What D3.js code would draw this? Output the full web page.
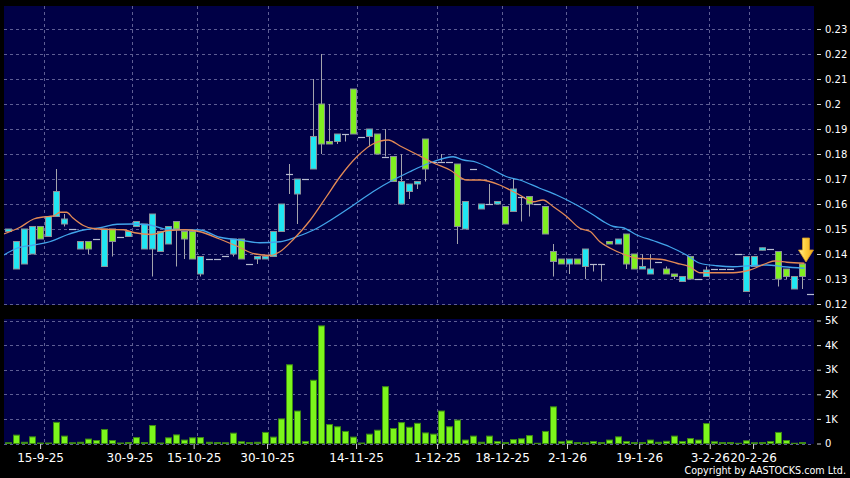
<!DOCTYPE html>
<html>
<head>
<meta charset="utf-8">
<script src="https://cdn.jsdelivr.net/npm/d3@7"></script>
<style>
  body { margin: 0; background: #000; }
  svg { display: block; }
</style>
</head>
<body>
<script>
// one candle per trading day, index 0..100 (left to right)
const opens = [0.149,0.134,0.136,0.140,0.151,0.147,0.155,0.152,0.150,0.142,
  0.145,0.146,0.135,0.150,0.147,0.147,0.151,0.142,0.142,0.141,
  0.144,0.153,0.149,0.149,0.132,0.138,0.138,0.139,0.140,0.146,
  0.136,0.138,0.138,0.139,0.149,0.172,0.164,0.170,0.174,0.200,
  0.185,0.185,0.188,0.206,0.187,0.187,0.188,0.179,0.179,0.160,
  0.165,0.168,0.186,0.177,0.177,0.177,0.176,0.150,0.174,0.158,
  0.160,0.160,0.159,0.157,0.163,0.163,0.160,0.159,0.141,0.138,
  0.136,0.138,0.135,0.136,0.136,0.145,0.144,0.148,0.140,0.134,
  0.132,0.137,0.134,0.132,0.129,0.139,0.130,0.131,0.134,0.134,
  0.134,0.140,0.125,0.135,0.1415,0.142,0.141,0.134,0.126,0.136,
  0.124];
const highs = [0.150,0.145,0.150,0.151,0.151,0.155,0.174,0.156,0.150,0.145,
  0.145,0.146,0.150,0.150,0.147,0.149,0.153,0.152,0.156,0.149,
  0.151,0.153,0.149,0.149,0.139,0.138,0.138,0.139,0.146,0.146,
  0.136,0.139,0.139,0.149,0.160,0.176,0.170,0.170,0.210,0.220,
  0.200,0.188,0.188,0.206,0.187,0.190,0.188,0.190,0.179,0.180,
  0.168,0.169,0.186,0.177,0.180,0.177,0.176,0.161,0.174,0.160,
  0.168,0.161,0.159,0.170,0.163,0.163,0.160,0.159,0.144,0.138,
  0.138,0.138,0.142,0.136,0.136,0.145,0.146,0.148,0.140,0.140,
  0.140,0.137,0.135,0.132,0.131,0.139,0.130,0.135,0.134,0.134,
  0.134,0.140,0.139,0.139,0.1425,0.142,0.141,0.134,0.131,0.136,
  0.124];
const lows = [0.149,0.134,0.136,0.140,0.146,0.147,0.155,0.151,0.150,0.142,
  0.140,0.146,0.135,0.139,0.147,0.147,0.151,0.142,0.131,0.141,
  0.144,0.135,0.138,0.138,0.131,0.138,0.138,0.139,0.139,0.138,
  0.136,0.136,0.138,0.139,0.149,0.164,0.152,0.170,0.174,0.180,
  0.184,0.184,0.185,0.188,0.187,0.183,0.180,0.179,0.169,0.160,
  0.162,0.166,0.169,0.177,0.177,0.177,0.144,0.150,0.174,0.158,
  0.160,0.160,0.152,0.157,0.153,0.155,0.160,0.148,0.131,0.136,
  0.132,0.136,0.130,0.133,0.129,0.144,0.144,0.134,0.134,0.134,
  0.132,0.137,0.132,0.130,0.129,0.130,0.130,0.131,0.134,0.134,
  0.134,0.140,0.125,0.135,0.1415,0.142,0.127,0.130,0.126,0.126,
  0.124];
const closes = [0.150,0.145,0.150,0.151,0.146,0.155,0.165,0.154,0.150,0.145,
  0.142,0.146,0.150,0.145,0.147,0.149,0.153,0.152,0.156,0.149,
  0.151,0.150,0.146,0.138,0.139,0.138,0.138,0.139,0.146,0.138,
  0.136,0.139,0.139,0.149,0.160,0.172,0.170,0.170,0.187,0.184,
  0.184,0.188,0.188,0.188,0.187,0.190,0.180,0.179,0.169,0.169,
  0.168,0.169,0.174,0.177,0.177,0.177,0.151,0.161,0.174,0.160,
  0.160,0.161,0.152,0.166,0.163,0.160,0.160,0.148,0.137,0.136,
  0.138,0.136,0.142,0.136,0.136,0.144,0.146,0.136,0.134,0.135,
  0.134,0.137,0.132,0.131,0.131,0.130,0.130,0.1336,0.134,0.134,
  0.134,0.140,0.139,0.139,0.1425,0.142,0.130,0.131,0.131,0.131,
  0.124];
// volume in thousands
const volumes = [0.03,0.34,0.05,0.27,0.02,0.02,0.86,0.30,0.03,0.05,
  0.18,0.12,0.57,0.12,0.02,0.04,0.24,0.04,0.73,0.02,
  0.23,0.35,0.14,0.23,0.24,0.05,0.04,0.03,0.42,0.07,
  0.04,0.05,0.45,0.26,1.00,3.20,1.32,0.08,2.57,4.78,
  0.77,0.68,0.49,0.26,0.02,0.38,0.54,2.31,0.61,0.85,
  0.66,0.82,0.43,0.38,1.32,0.68,0.95,0.14,0.30,0.05,
  0.30,0.08,0.04,0.16,0.19,0.32,0.01,0.49,1.49,0.07,
  0.11,0.04,0.03,0.08,0.04,0.14,0.27,0.08,0.04,0.04,
  0.14,0.05,0.09,0.30,0.08,0.20,0.14,0.81,0.07,0.04,
  0.04,0.01,0.11,0.03,0.04,0.08,0.45,0.12,0.01,0.04,
  0.00];

// moving averages: [candle index, price]
const maShort = [[-0.5,0.148],[1.5,0.1507],[3.2,0.154],[4.4,0.1548],[5.65,0.1552],[6.5,0.1567],
  [7.3,0.1567],[8.1,0.1544],[9.4,0.1514],[10.6,0.1502],[12.7,0.1498],[14.4,0.1497],[15.8,0.1485],
  [17.9,0.1478],[20,0.1494],[22.1,0.1497],[24.1,0.1488],[26.3,0.1461],[28.6,0.1431],[30.7,0.1401],
  [32.7,0.1394],[33.9,0.1409],[35.6,0.1459],[37.7,0.1536],[39.7,0.1629],[41.4,0.1709],[43.5,0.1789],
  [45.5,0.184],[47.4,0.1856],[48.9,0.1832],[51,0.1798],[53,0.1765],[55.1,0.1736],[57.2,0.1696],
  [58.9,0.1696],[61.3,0.1676],[62.6,0.1656],[63.8,0.1636],[65.5,0.1609],[66.7,0.1616],[68,0.1589],
  [69.7,0.1549],[71.3,0.1503],[72.6,0.149],[73.8,0.1449],[75.1,0.1423],[76.7,0.140],[78.4,0.1383],
  [81.3,0.1379],[83.4,0.1363],[85,0.1349],[86.3,0.1325],[90.4,0.1325],[92.5,0.1336],[94.6,0.1363],
  [95.6,0.1372],[97.1,0.1367],[99.3,0.1363]];
const maLong = [[-0.5,0.1396],[1.1,0.1423],[3.2,0.1436],[5.2,0.1449],[7.3,0.1476],[9.4,0.1496],
  [11.5,0.1505],[13.6,0.1519],[15.6,0.152],[17.7,0.1516],[19.8,0.1499],[21.8,0.1497],[23.9,0.1496],
  [26.4,0.1467],[28.9,0.1456],[31.4,0.1445],[33.9,0.1449],[36,0.1469],[38.1,0.1496],[40.6,0.1543],
  [43.1,0.1596],[45.5,0.1649],[48,0.1696],[50.1,0.1729],[51,0.1743],[53,0.1769],[55.5,0.1789],
  [56.8,0.1776],[58.4,0.1767],[60.1,0.1743],[62.2,0.1709],[63.8,0.1696],[66.3,0.1663],[68.4,0.1636],
  [70.9,0.1596],[73,0.1556],[74.5,0.1525],[75.5,0.151],[76.7,0.1505],[78.4,0.1476],[80.5,0.1453],
  [82.5,0.1429],[84.6,0.1396],[86.3,0.1363],[88.4,0.1353],[90.4,0.1349],[92.5,0.1353],[94.6,0.1356],
  [96.7,0.1349],[99.3,0.1343]];

const dateLabels = ["15-9-25","30-9-25","15-10-25","30-10-25","14-11-25","1-12-25",
  "18-12-25","2-1-26","19-1-26","3-2-26","20-2-26"];
const dateIdx = [4, 15.15, 23.15, 32.3, 43.4, 53.5, 61.6, 69.7, 78.7, 87.5, 92.9];
const gridIdx = [4.5, 15.5, 23.55, 32.45, 43.5, 53.5, 61.6, 69.6, 78.45, 87.4, 92.45];
const priceTicks = [0.12,0.13,0.14,0.15,0.16,0.17,0.18,0.19,0.2,0.21,0.22,0.23];
const priceLabels = ["0.12","0.13","0.14","0.15","0.16","0.17","0.18","0.19","0.2","0.21","0.22","0.23"];
const volTicks = [0,1,2,3,4,5];
const volLabels = ["0","1K","2K","3K","4K","5K"];

const font = "'DejaVu Sans', Verdana, sans-serif";
const bg = "#000046";
const gridColor = "#5e5e94";
const upColor = "#20e6f2";
const downColor = "#80f020";

const svg = d3.select("body").append("svg")
    .attr("width", 850)
    .attr("height", 478)
    .style("font-family", font);

svg.append("rect").attr("width", 850).attr("height", 478).attr("fill", "#000");

const x = d3.scaleLinear().domain([-0.5, closes.length - 0.5]).range([4, 814]);
const y = d3.scaleLinear().domain([0.12, 0.23]).range([304, 29]);
const yv = d3.scaleLinear().domain([0, 5]).range([443.5, 320.5]);

const mainBox = { top: 6, bottom: 305 };
const volBox = { top: 319, bottom: 444 };

// panel backgrounds
svg.append("rect").attr("x", 4).attr("y", mainBox.top).attr("width", 810)
    .attr("height", mainBox.bottom - mainBox.top).attr("fill", bg);
svg.append("rect").attr("x", 4).attr("y", volBox.top).attr("width", 810)
    .attr("height", volBox.bottom - volBox.top).attr("fill", bg);

const defs = svg.append("defs");
defs.append("clipPath").attr("id", "clipMain").append("rect")
    .attr("x", 4).attr("y", mainBox.top).attr("width", 810).attr("height", mainBox.bottom - mainBox.top);

// grid lines
function drawGrid(ticks, scale, box) {
    const g = svg.append("g")
        .attr("stroke", gridColor)
        .attr("stroke-dasharray", "3,3")
        .attr("shape-rendering", "crispEdges");
    g.selectAll(".h").data(ticks).join("line")
        .attr("x1", 4).attr("x2", 814)
        .attr("y1", d => Math.round(scale(d)) + 0.5)
        .attr("y2", d => Math.round(scale(d)) + 0.5);
    g.selectAll(".v").data(gridIdx).join("line")
        .attr("x1", d => Math.round(x(d)) + 0.5)
        .attr("x2", d => Math.round(x(d)) + 0.5)
        .attr("y1", box.top).attr("y2", box.bottom);
}
drawGrid(priceTicks, y, mainBox);
drawGrid(volTicks, yv, volBox);

const idx = d3.range(closes.length);
const cx = i => Math.round(x(i));

// candles
const candles = svg.append("g").attr("clip-path", "url(#clipMain)");

candles.selectAll(".wick")
    .data(idx.filter(i => highs[i] > lows[i]))
    .join("line")
    .attr("class", "wick")
    .attr("x1", i => cx(i) + 0.5).attr("x2", i => cx(i) + 0.5)
    .attr("y1", i => y(highs[i])).attr("y2", i => y(lows[i]))
    .attr("stroke", "#a4a4ac")
    .attr("stroke-width", 1);

candles.selectAll(".body")
    .data(idx.filter(i => opens[i] !== closes[i]))
    .join("rect")
    .attr("class", "body")
    .attr("x", i => cx(i) - 2.5)
    .attr("width", 6)
    .attr("y", i => y(Math.max(opens[i], closes[i])))
    .attr("height", i => Math.max(1, y(Math.min(opens[i], closes[i])) - y(Math.max(opens[i], closes[i]))))
    .attr("fill", i => closes[i] > opens[i] ? upColor : downColor)
    .attr("stroke", "#8c9098")
    .attr("stroke-width", 1);

candles.selectAll(".flat")
    .data(idx.filter(i => opens[i] === closes[i]))
    .join("line")
    .attr("class", "flat")
    .attr("x1", i => cx(i) - 3).attr("x2", i => cx(i) + 4)
    .attr("y1", i => Math.round(y(closes[i])) + 0.5)
    .attr("y2", i => Math.round(y(closes[i])) + 0.5)
    .attr("stroke", "#b8bcd0")
    .attr("stroke-width", 1.2);

// moving averages
const maLine = d3.line()
    .x(d => x(d[0]))
    .y(d => y(d[1]))
    .curve(d3.curveMonotoneX);

candles.append("path").datum(maLong)
    .attr("d", maLine)
    .attr("fill", "none")
    .attr("stroke", "#42a4ea")
    .attr("stroke-width", 1.3);

candles.append("path").datum(maShort)
    .attr("d", maLine)
    .attr("fill", "none")
    .attr("stroke", "#e48a55")
    .attr("stroke-width", 1.3);

// arrow marker above the latest candle
const arrowX = x(99.5);
const arrowTip = y(0.1368);
const grad = defs.append("linearGradient").attr("id", "arrowGrad")
    .attr("x1", 0).attr("x2", 1).attr("y1", 0).attr("y2", 0);
grad.append("stop").attr("offset", "0%").attr("stop-color", "#fff0a0");
grad.append("stop").attr("offset", "45%").attr("stop-color", "#ffd040");
grad.append("stop").attr("offset", "100%").attr("stop-color", "#f0a818");
svg.append("path")
    .attr("d", `M${arrowX - 3.5},${arrowTip - 24} h7 v12 h4 l-7.5,12 l-7.5,-12 h4 z`)
    .attr("fill", "url(#arrowGrad)")
    .attr("stroke", "#d89a20")
    .attr("stroke-width", 0.8);

// volume bars
svg.append("g").selectAll("rect")
    .data(idx.filter(i => volumes[i] > 0))
    .join("rect")
    .attr("x", i => cx(i) - 2.5)
    .attr("width", 6)
    .attr("y", i => yv(volumes[i]))
    .attr("height", i => yv(0) - yv(volumes[i]))
    .attr("fill", "#7cf51c")
    .attr("stroke", "#3d8a14")
    .attr("stroke-width", 1);

// axes
function styleAxis(g, size) {
    g.select(".domain").remove();
    g.attr("font-family", font);
    g.selectAll("text").attr("fill", "#fff").style("font-size", size);
    g.selectAll("line").attr("stroke", "#d0d0d0");
}

svg.append("g")
    .attr("transform", "translate(817,0)")
    .call(d3.axisRight(y).tickValues(priceTicks).tickFormat((d, i) => priceLabels[i]).tickSize(4).tickPadding(4))
    .call(g => styleAxis(g, "10px"));

svg.append("g")
    .attr("transform", "translate(817,0)")
    .call(d3.axisRight(yv).tickValues(volTicks).tickFormat((d, i) => volLabels[i]).tickSize(4).tickPadding(4))
    .call(g => styleAxis(g, "10px"));

svg.append("g")
    .attr("transform", "translate(0," + volBox.bottom + ")")
    .call(d3.axisBottom(x).tickValues(dateIdx).tickFormat((d, i) => dateLabels[i]).tickSize(5).tickPadding(4))
    .call(g => styleAxis(g, "12px"));

svg.append("text")
    .attr("x", 846)
    .attr("y", 474)
    .attr("text-anchor", "end")
    .attr("fill", "#fff")
    .style("font-size", "9.6px")
    .text("Copyright by AASTOCKS.com Ltd.");
</script>
</body>
</html>
